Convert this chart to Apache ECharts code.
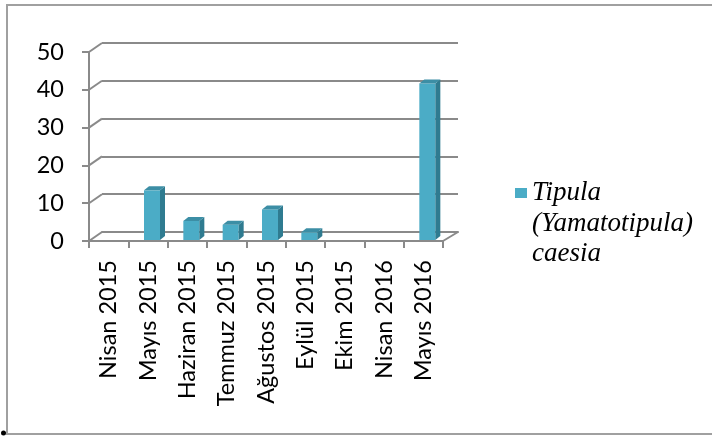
<!DOCTYPE html>
<html>
<head>
<meta charset="utf-8">
<script src="https://cdn.jsdelivr.net/npm/echarts@6/dist/echarts.min.js"></script>
<style>
html,body{margin:0;padding:0;background:#fff;}
#chart{width:712px;height:437px;}
</style>
</head>
<body>
<div id="chart"></div>
<script>
const categories = ['Nisan 2015','Mayıs 2015','Haziran 2015','Temmuz 2015','Ağustos 2015','Eylül 2015','Ekim 2015','Nisan 2016','Mayıs 2016'];
const values = [0, 13, 5, 4, 8, 2, 0, 0, 41];
const yTicks = [0, 10, 20, 30, 40, 50];
const seriesName = 'Tipula (Yamatotipula) caesia';
const legendLines = ['Tipula', '(Yamatotipula)', 'caesia'];

const GRAY = '#8a8a8a';
const DEPTH_X = 13, DEPTH_Y = 9;      // wall depth
const BAR_DX = 5, BAR_DY = 4;         // bar depth
const BAR_W = 16;
const LEGEND_LH = 30.5;

const chart = echarts.init(document.getElementById('chart'), null, {renderer: 'canvas'});

const axisFont = {fontFamily: 'Lato', fontSize: 23.5, color: '#000'};

const option = {
  animation: false,
  backgroundColor: '#fff',
  grid: [
    {left: 89, top: 52, width: 354, height: 189},   // front
    {left: 102, top: 43, width: 356, height: 189},  // back wall
    {left: 93, top: 49, width: 354, height: 191}    // bars (mid depth)
  ],
  xAxis: [
    {type: 'category', gridIndex: 0, data: categories, boundaryGap: true,
     axisLine: {show: true, lineStyle: {color: GRAY, width: 2}},
     axisTick: {show: true, length: 7, interval: 0, lineStyle: {color: GRAY, width: 2}},
     axisLabel: Object.assign({rotate: 90, interval: 0, margin: 19}, axisFont)},
    {type: 'category', gridIndex: 1, data: categories, boundaryGap: true,
     axisLine: {show: true, lineStyle: {color: GRAY, width: 2}},
     axisTick: {show: false}, axisLabel: {show: false}},
    {type: 'category', gridIndex: 2, data: categories, boundaryGap: true, show: false}
  ],
  yAxis: [
    {type: 'value', gridIndex: 0, min: 0, max: 50, interval: 10,
     axisLine: {show: true, lineStyle: {color: GRAY, width: 2}},
     axisTick: {show: true, length: 7, lineStyle: {color: GRAY, width: 2}},
     splitLine: {show: false},
     axisLabel: Object.assign({margin: 25}, axisFont)},
    {type: 'value', gridIndex: 1, min: 0, max: 50, interval: 10,
     axisLine: {show: false}, axisTick: {show: false}, axisLabel: {show: false},
     splitLine: {show: true, lineStyle: {color: GRAY, width: 2}}},
    {type: 'value', gridIndex: 2, min: 0, max: 50, interval: 10, show: false,
     splitLine: {show: false}}
  ],
  legend: {
    left: 515, top: 193 - 2.5 * LEGEND_LH, padding: 0,
    data: [{name: seriesName, icon: 'rect'}],
    itemWidth: 12, itemHeight: 10, itemGap: 0,
    // two empty leading lines keep the icon level with the first text line
    formatter: function () { return '\n\n' + legendLines.join('\n'); },
    textStyle: {fontFamily: 'Liberation Serif', fontStyle: 'italic', fontSize: 27,
                color: '#000', lineHeight: LEGEND_LH}
  },
  series: [
    // left-wall connectors (3D wall edges)
    {type: 'custom', xAxisIndex: 1, yAxisIndex: 1, silent: true, legendHoverLink: false,
     data: yTicks.map(v => [0, v]),
     renderItem: function (params, api) {
       const v = api.value(1);
       const p = api.coord([0, v]);
       const left = p[0] - api.size([1, 0])[0] / 2;
       return {type: 'line', shape: {x1: left, y1: p[1], x2: left - DEPTH_X, y2: p[1] + DEPTH_Y},
               style: {stroke: GRAY, lineWidth: 2}};
     }},
    // floor right edge
    {type: 'custom', xAxisIndex: 1, yAxisIndex: 1, silent: true,
     data: [[categories.length - 1, 0]],
     renderItem: function (params, api) {
       const p = api.coord([api.value(0), api.value(1)]);
       const right = p[0] + api.size([1, 0])[0] / 2;
       return {type: 'line', shape: {x1: right, y1: p[1], x2: right - DEPTH_X - 2, y2: p[1] + DEPTH_Y},
               style: {stroke: GRAY, lineWidth: 2}};
     }},
    // 3D columns
    {name: seriesName, type: 'custom', xAxisIndex: 2, yAxisIndex: 2,
     itemStyle: {color: '#4BACC6'},
     data: values.map((v, i) => [i, v]),
     renderItem: function (params, api) {
       const v = api.value(1);
       if (!v) return null;
       const top = api.coord([api.value(0), v]);
       const base = api.coord([api.value(0), 0]);
       const x0 = top[0] - BAR_W / 2, x1 = top[0] + BAR_W / 2;
       const yt = top[1], yb = base[1];
       return {type: 'group', children: [
         {type: 'rect', shape: {x: x0, y: yt, width: BAR_W, height: yb - yt},
          style: {fill: '#4BACC6'}},
         {type: 'polygon', shape: {points: [[x1, yt], [x1 + BAR_DX, yt - BAR_DY], [x1 + BAR_DX, yb - BAR_DY], [x1, yb]]},
          style: {fill: '#2F7B90'}},
         {type: 'polygon', shape: {points: [[x0, yt], [x0 + BAR_DX, yt - BAR_DY], [x1 + BAR_DX, yt - BAR_DY], [x1, yt]]},
          style: {fill: '#3C8EA5'}}
       ]};
     }}
  ],
  graphic: [
    {type: 'rect', shape: {x: 7, y: 5, width: 720, height: 429}, silent: true,
     style: {fill: null, stroke: '#a0a0a0', lineWidth: 2}, z: -1},
    {type: 'circle', shape: {cx: 3.5, cy: 433, r: 2.5}, style: {fill: '#000'}}
  ]
};
chart.setOption(option);
</script>
</body>
</html>
